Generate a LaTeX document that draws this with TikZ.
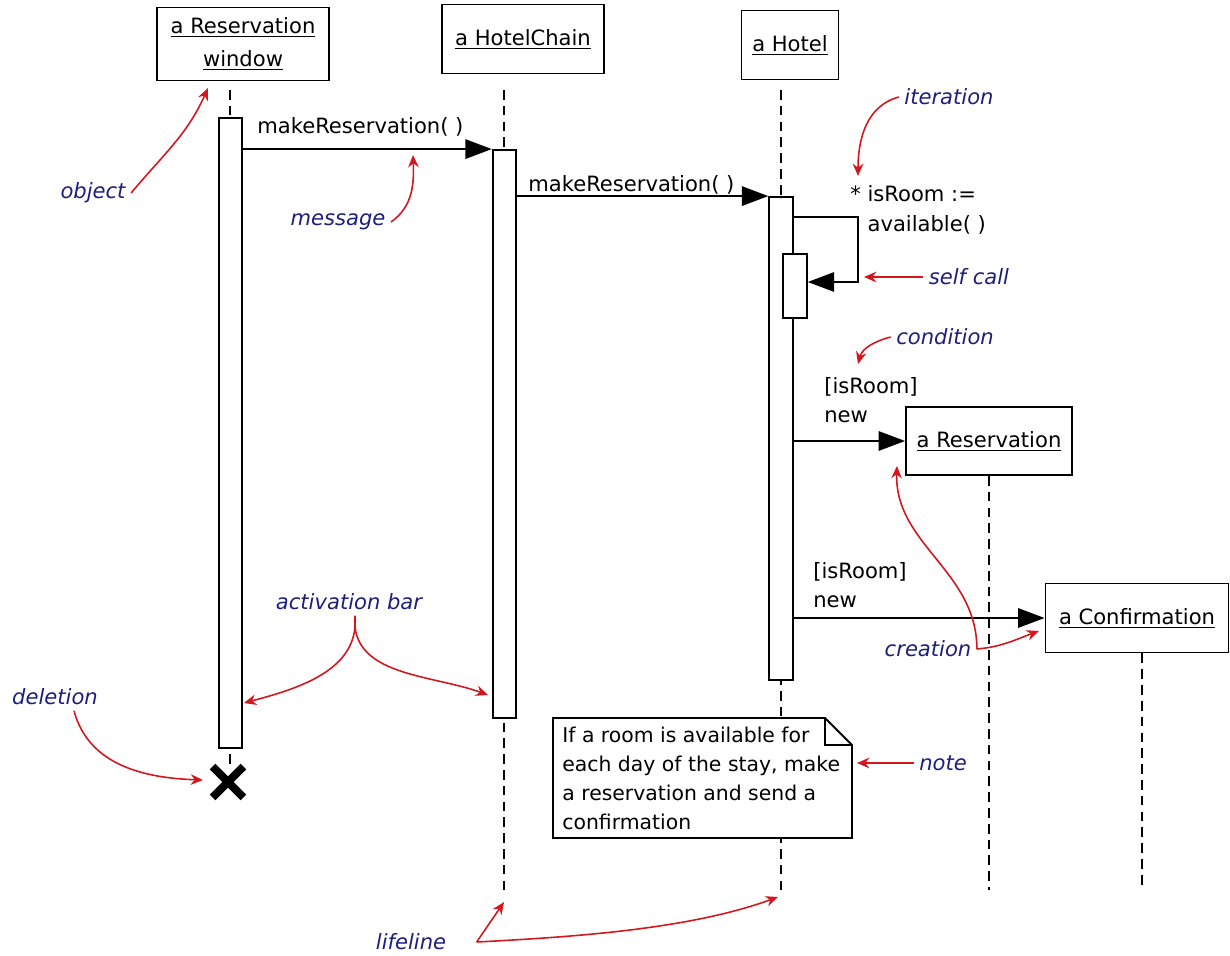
\documentclass[tikz,border=0pt]{standalone}
\usepackage{fontspec}
\setmainfont{DejaVu Sans}
\usetikzlibrary{arrows.meta, shapes.misc, positioning, calc}

\definecolor{hintred}{RGB}{212,22,30}
\definecolor{hintblue}{RGB}{30,30,125}

\begin{document}
\begin{tikzpicture}[x=0.02cm, y=-0.02cm,
        every node/.style={font=\fontsize{12}{16.5}\selectfont, inner sep=0pt},
        object/.style={rectangle, draw, line width=1.1pt, fill=white, align=center},
        bar/.style={rectangle, draw, line width=1.1pt, fill=white, minimum width=0.47cm},
        msg/.style={line width=1.1pt, -{Triangle[length=15pt, width=11pt]}},
        lifeline/.style={line width=0.9pt, dash pattern=on 5.5pt off 3.5pt},
        remark/.style={text=hintblue, font=\fontsize{12}{15}\selectfont\itshape, inner sep=3pt},
        pointer/.style={draw=hintred, line width=0.9pt, -{Stealth[length=7pt, width=6pt]}}]

    \useasboundingbox (0,0) rectangle (1230,956);

    % objects
    \node[object, minimum width=3.44cm, minimum height=1.46cm] (window) at (243,44) {\underline{a Reservation}\\[2pt]\underline{window}};
    \node[object, minimum width=3.24cm, minimum height=1.38cm] (chain) at (523,39) {\underline{a HotelChain}};
    \node[object, minimum width=1.94cm, minimum height=1.38cm] (hotel) at (790,45) {\underline{a Hotel}};
    \node[object, minimum width=3.32cm, minimum height=1.36cm] (reservation) at (989,441) {\underline{a Reservation}};
    \node[object, minimum width=3.66cm, minimum height=1.38cm] (confirmation) at (1137,618) {\underline{a Confirmation}};
    \node[cross out, draw, line width=4.5pt, minimum size=0.46cm] (del) at (228,782) {};

    % lifelines
    \coordinate (winTop) at (230,90);
    \coordinate (chainTop) at (504,90);
    \coordinate (hotelTop) at (781,90);
    \coordinate (chainEnd) at (504,896);
    \coordinate (hotelEnd) at (781,890);
    \draw[lifeline] (winTop) -- (winTop |- del.north);
    \draw[lifeline] (chainTop) -- (chainEnd);
    \draw[lifeline] (hotelTop) -- (hotelEnd);
    \draw[lifeline] (reservation.south) -- (reservation.south |- hotelEnd);
    \draw[lifeline] ($(confirmation.south)+(5,0)$) -- ($(confirmation.south |- hotelEnd)+(5,0)$);

    % activation bars
    \node[bar, minimum height=12.6cm] (winBar) at (230.5,433) {};
    \node[bar, minimum height=11.36cm] (chainBar) at (504.5,434) {};
    \node[bar, minimum height=9.66cm] (hotelBar) at (781,438.5) {};
    \node[bar, minimum height=1.28cm] (selfBar) at (795,286) {};

    % note
    \draw[line width=1.1pt, fill=white] (553,718) -- (825,718) -- (852,745) -- (852,838) -- (553,838) -- cycle;
    \draw[line width=1.1pt] (825,718) |- (852,745);
    \node[anchor=north west, align=left, font=\fontsize{11.6}{16.5}\selectfont] (note) at (562,727) {If a room is available for\\each day of the stay, make\\a reservation and send a\\confirmation};

    % messages
    \draw[msg] (winBar.east |- chainBar.north) -- (chainBar.north west);
    \draw[msg] (chainBar.east |- hotelBar.north) -- (hotelBar.north west);
    \draw[msg] ([yshift=-0.42cm]hotelBar.north east) -- ++(64,0) |- ([yshift=0.08cm]selfBar.east);
    \draw[msg] (hotelBar.east |- reservation.west) -- (reservation.west);
    \draw[msg] (hotelBar.east |- confirmation.west) -- (confirmation.west);

    \node[anchor=west] (call1) at (257,127) {makeReservation( )};
    \node[anchor=west] (call2) at (528,185) {makeReservation( )};
    \node[anchor=west, align=left, font=\fontsize{12}{17}\selectfont] (loop) at (850,210) {* isRoom :=\\\phantom{*\ }available( )};
    \node[anchor=west, align=left] (guard1) at (824,400) {[isRoom]\\new};
    \node[anchor=west, align=left] (guard2) at (813,585) {[isRoom]\\new};

    % remarks
    \node[remark] (objectLbl) at (93,193) {object};
    \node[remark] (messageLbl) at (338,222) {message};
    \node[remark] (iterLbl) at (949,97) {iteration};
    \node[remark] (selfLbl) at (969,277) {self call};
    \node[remark] (condLbl) at (945,337) {condition};
    \node[remark] (creatLbl) at (928,649) {creation};
    \node[remark] (noteLbl) at (943,763) {note};
    \node[remark] (actLbl) at (349,602) {activation bar};
    \node[remark] (delLbl) at (55,697) {deletion};
    \node[remark] (lifeLbl) at (411,942) {lifeline};

    \coordinate (objTip) at (208,88);
    \coordinate (msgTip) at (413,155);
    \coordinate (iterTip) at (858,176);
    \coordinate (selfTip) at (864,277);
    \coordinate (condTip) at (858,364);
    \coordinate (resTip) at (897,466);
    \coordinate (confTip) at (1039,631);
    \coordinate (noteTip) at (857,763);
    \coordinate (actLeft) at (244,703);
    \coordinate (actRight) at (488,695);
    \coordinate (delTip) at (203,780);
    \coordinate (chainTip) at (504,902);
    \coordinate (hotelTip) at (778,897);

    \draw[pointer] (objectLbl.east) to[out=50, in=-114] (objTip);
    \draw[pointer] (messageLbl.east) to[out=35, in=-88] (msgTip);
    \draw[pointer] (iterLbl.west) to[out=195, in=90] (iterTip);
    \draw[pointer] (selfLbl.west) -- (selfTip);
    \draw[pointer] (condLbl.west) to[out=195, in=75] (condTip);
    \draw[pointer] (creatLbl.east) to[out=90, in=-92] (resTip);
    \draw[pointer] (creatLbl.east) to[out=5, in=200] (confTip);
    \draw[pointer] (noteLbl.west) -- (noteTip);
    \draw[pointer] ([xshift=0.12cm]actLbl.south) to[out=-85, in=15] (actLeft);
    \draw[pointer] ([xshift=0.12cm]actLbl.south) to[out=-95, in=160] (actRight);
    \draw[pointer] ([xshift=0.38cm]delLbl.south) to[out=-75, in=178] (delTip);
    \draw[pointer] ([xshift=0.5cm]lifeLbl.east) -- (chainTip);
    \draw[pointer] ([xshift=0.5cm]lifeLbl.east) to[out=3, in=200, looseness=0.8] (hotelTip);
\end{tikzpicture}
\end{document}
